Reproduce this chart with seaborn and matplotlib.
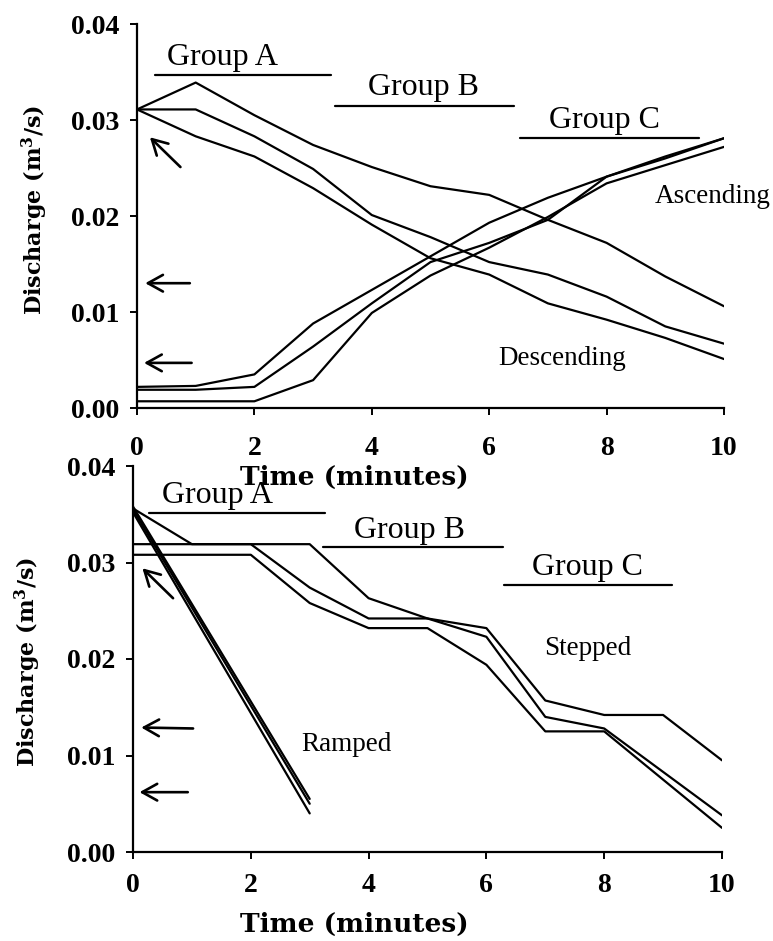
import matplotlib
matplotlib.use("Agg")
import matplotlib.pyplot as plt
import seaborn as sns
import pandas as pd
import numpy as np

# ---------------- data ----------------
time = [0, 1, 2, 3, 4, 5, 6, 7, 8, 9, 10]

desc_1 = [0.0311, 0.0339, 0.0305, 0.0274, 0.0251, 0.0231, 0.0222, 0.0196, 0.0172, 0.0137, 0.0106]
desc_2 = [0.0311, 0.0311, 0.0283, 0.0249, 0.0201, 0.0178, 0.0152, 0.0139, 0.0116, 0.0085, 0.0067]
desc_3 = [0.0311, 0.0283, 0.0262, 0.0229, 0.0191, 0.0156, 0.0139, 0.0109, 0.0092, 0.0073, 0.0051]

asc_1 = [0.0022, 0.0023, 0.0035, 0.0088, 0.0123, 0.0158, 0.0193, 0.0219, 0.0241, 0.0260, 0.0281]
asc_2 = [0.0019, 0.0019, 0.0022, 0.0064, 0.0109, 0.0152, 0.0172, 0.0196, 0.0241, 0.0262, 0.0281]
asc_3 = [0.0007, 0.0007, 0.0007, 0.0029, 0.0099, 0.0138, 0.0167, 0.0199, 0.0234, 0.0253, 0.0272]

ramp_time = [0, 3]
ramp_1 = [0.0358, 0.0055]
ramp_2 = [0.0355, 0.0050]
ramp_3 = [0.0352, 0.0040]

step_1 = [0.0356, 0.0319, 0.0319, 0.0319, 0.0263, 0.0242, 0.0232, 0.0157, 0.0142, 0.0142, 0.0095]
step_2 = [0.0319, 0.0319, 0.0319, 0.0274, 0.0242, 0.0242, 0.0223, 0.0140, 0.0128, 0.0083, 0.0038]
step_3 = [0.0308, 0.0308, 0.0308, 0.0258, 0.0232, 0.0232, 0.0194, 0.0125, 0.0125, 0.0075, 0.0025]

group_names = ["Group A", "Group B", "Group C"]
top_group_start = [0.30, 3.38, 6.52]
top_group_end = [3.30, 6.42, 9.58]
top_group_level = [0.0347, 0.0315, 0.0281]
top_group_text_x = [1.46, 4.88, 7.97]
top_group_text_y = [0.0357, 0.0326, 0.0292]

bot_group_start = [0.28, 3.22, 6.30]
bot_group_end = [3.26, 6.28, 9.15]
bot_group_level = [0.0351, 0.0316, 0.0277]
bot_group_text_x = [1.43, 4.70, 7.72]
bot_group_text_y = [0.0362, 0.0325, 0.0287]

x_ticks = [0, 2, 4, 6, 8, 10]
y_ticks = [0.00, 0.01, 0.02, 0.03, 0.04]

# arrows: (tail_x, tail_y, head_x, head_y)
top_arrows = [(0.74, 0.0251, 0.22, 0.0282), (0.90, 0.0130, 0.14, 0.0130), (0.93, 0.0047, 0.12, 0.0047)]
bot_arrows = [(0.68, 0.0263, 0.16, 0.0294), (1.02, 0.0128, 0.14, 0.0129), (0.93, 0.0062, 0.11, 0.0062)]

# ---------------- style ----------------
sns.set_theme(style="white")
plt.rcParams['font.family'] = ['Liberation Serif', 'DejaVu Serif']
plt.rcParams['mathtext.fontset'] = 'custom'
plt.rcParams['mathtext.rm'] = 'DejaVu Serif:bold'
plt.rcParams['mathtext.it'] = 'DejaVu Serif:bold'
plt.rcParams['mathtext.bf'] = 'DejaVu Serif:bold'
for key in ['text.color', 'axes.labelcolor', 'xtick.color', 'ytick.color', 'axes.edgecolor']:
    plt.rcParams[key] = 'black'

fig = plt.figure(figsize=(7.73, 9.41), dpi=100)
ax1 = fig.add_axes([137/773, 1 - 408/941, (724 - 137)/773, 384/941])
ax2 = fig.add_axes([133/773, 1 - 852/941, (722 - 133)/773, 386/941])
ax1.set_zorder(3)
ax2.set_zorder(2)


def long_df(tvals, series):
    rows = []
    for name, vals in series.items():
        for t, v in zip(tvals, vals):
            rows.append({"time": t, "discharge": v, "series": name})
    return pd.DataFrame(rows)


df_top = long_df(time, {"d1": desc_1, "d2": desc_2, "d3": desc_3,
                         "a1": asc_1, "a2": asc_2, "a3": asc_3})
df_step = long_df(time, {"s1": step_1, "s2": step_2, "s3": step_3})
df_ramp = long_df(ramp_time, {"r1": ramp_1, "r2": ramp_2, "r3": ramp_3})

lw = 1.6
sns.lineplot(data=df_top, x="time", y="discharge", units="series", estimator=None,
             color="black", lw=lw, ax=ax1, legend=False)
sns.lineplot(data=df_step, x="time", y="discharge", units="series", estimator=None,
             color="black", lw=lw, ax=ax2, legend=False)
sns.lineplot(data=df_ramp, x="time", y="discharge", units="series", estimator=None,
             color="black", lw=lw, ax=ax2, legend=False)

tick_font = dict(family='Liberation Serif', weight='bold', size=20, color='black')


def style_axis(ax, label_x, label_y, ylab_x, ylab_y, xpad):
    ax.set_xlim(0, 10)
    ax.set_ylim(0, 0.04)
    for s in ["top", "right"]:
        ax.spines[s].set_visible(False)
    for s in ["left", "bottom"]:
        ax.spines[s].set_color("black")
        ax.spines[s].set_linewidth(1.6)
    ax.set_xticks(x_ticks)
    ax.set_yticks(y_ticks)
    ax.set_xticklabels([str(t) for t in x_ticks], fontdict=tick_font)
    ax.set_yticklabels([f"{v:.2f}" for v in y_ticks], fontdict=tick_font)
    ax.tick_params(axis='both', which='major', direction='out', length=5, width=1.4,
                   color='black', labelcolor='black', left=True, bottom=True)
    ax.tick_params(axis='x', pad=xpad)
    ax.tick_params(axis='y', pad=8)
    ax.set_xlabel("Time (minutes)", family='DejaVu Serif', weight='bold', size=19,
                  color='black')
    ax.xaxis.set_label_coords(label_x, label_y)
    ax.set_ylabel("Discharge (m$^{3}$/s)", family='DejaVu Serif', weight='bold', size=16,
                  color='black')
    ax.yaxis.set_label_coords(ylab_x, ylab_y)
    ax.patch.set_visible(False)
    ax.grid(False)


style_axis(ax1, 0.371, -0.148, -0.148, 0.516, 15)
style_axis(ax2, 0.375, -0.155, -0.153, 0.492, 10)

# group bars and labels
for ax, gs, ge, gl, tx, ty in [
    (ax1, top_group_start, top_group_end, top_group_level, top_group_text_x, top_group_text_y),
    (ax2, bot_group_start, bot_group_end, bot_group_level, bot_group_text_x, bot_group_text_y)]:
    for name, s, e, l, x, y in zip(group_names, gs, ge, gl, tx, ty):
        ax.plot([s, e], [l, l], color="black", lw=1.6, clip_on=False)
        ax.text(x, y, name, ha="center", va="baseline", fontsize=23,
                family='Liberation Serif', color="black")

# annotations
ax1.text(9.80, 0.0220, "Ascending", ha="center", va="center", fontsize=19.5,
         family='Liberation Serif', color="black", clip_on=False)
ax1.text(7.25, 0.0052, "Descending", ha="center", va="center", fontsize=19.5,
         family='Liberation Serif', color="black")
ax2.text(7.72, 0.0211, "Stepped", ha="center", va="center", fontsize=19.5,
         family='Liberation Serif', color="black")
ax2.text(3.62, 0.0111, "Ramped", ha="center", va="center", fontsize=19.5,
         family='Liberation Serif', color="black")

for ax, arrows in [(ax1, top_arrows), (ax2, bot_arrows)]:
    for tx, ty, hx, hy in arrows:
        ax.annotate("", xy=(hx, hy), xytext=(tx, ty),
                    arrowprops=dict(arrowstyle="->,head_length=0.45,head_width=0.25",
                                    lw=1.9, color="black", mutation_scale=24,
                                    shrinkA=0, shrinkB=0))

fig.savefig("out.png", dpi=100, facecolor="white")
